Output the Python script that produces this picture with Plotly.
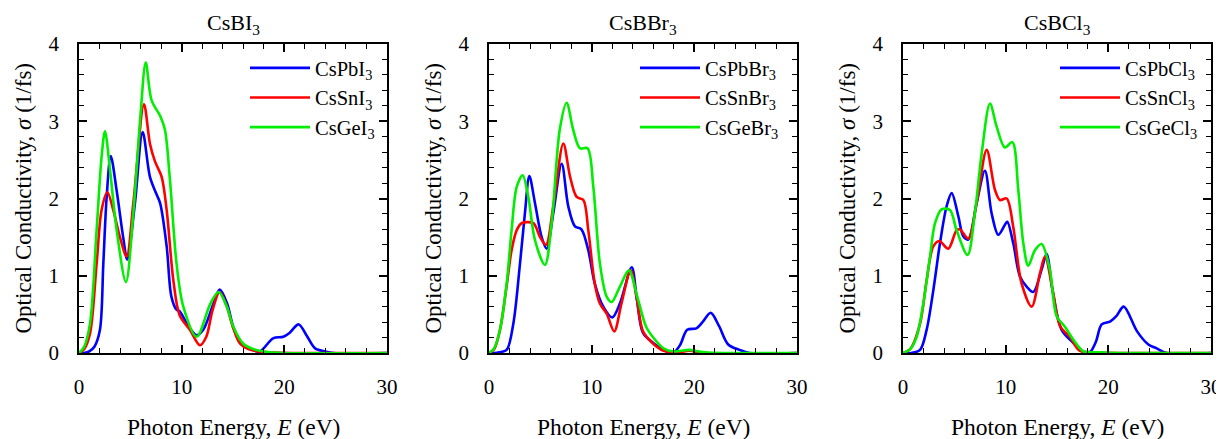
import plotly.graph_objects as go

# ---- data (photon energy in eV, sigma in 1/fs) ----
# CsBI3 panel
pbi_x = [0, 0.5, 1.0, 1.5, 2.04, 2.37, 2.7, 3.09, 3.67, 4.3, 4.7, 5.45, 6.2, 6.91, 7.5, 7.9, 8.54, 9.0, 9.5, 9.8,
         10.6, 11.46, 12.1, 13.1, 13.7, 14.4, 15.0, 15.7, 16.7, 17.6, 18.9, 19.9, 20.5, 21.4, 22.2, 23.0, 24.0, 24.8, 30]
pbi_y = [0, 0, 0.02, 0.08, 0.30, 1.16, 2.03, 2.55, 2.10, 1.5, 1.21, 1.94, 2.86, 2.28, 2.07, 1.94, 1.38, 0.73, 0.56, 0.54,
         0.36, 0.23, 0.30, 0.64, 0.82, 0.65, 0.35, 0.13, 0.05, 0.02, 0.19, 0.21, 0.26, 0.37, 0.22, 0.06, 0.02, 0, 0]
sni_x = [0, 0.5, 1.07, 1.72, 2.2, 2.76, 3.34, 3.99, 4.64, 5.29, 6.33, 6.91, 7.4, 8.05, 8.54, 9.19, 9.8, 10.8, 11.78,
         12.4, 13.0, 13.7, 14.4, 15.0, 15.7, 16.5, 17.5, 19, 21, 30]
sni_y = [0, 0.05, 0.25, 1.16, 1.85, 2.08, 1.85, 1.50, 1.25, 1.94, 3.22, 2.71, 2.48, 2.28, 1.85, 0.94, 0.49, 0.30, 0.10,
         0.21, 0.55, 0.79, 0.6, 0.33, 0.12, 0.05, 0.02, 0.005, 0, 0]
gei_x = [0, 0.5, 1.07, 1.72, 2.2, 2.53, 3.02, 3.67, 4.57, 5.29, 6.0, 6.5, 7.07, 7.9, 8.37, 8.86, 9.5, 10.16, 11.46,
         12.8, 13.6, 14.4, 15.0, 16.0, 17.0, 18.0, 20, 30]
gei_y = [0, 0.08, 0.38, 1.6, 2.54, 2.87, 2.37, 1.59, 0.92, 1.81, 3.1, 3.76, 3.27, 3.07, 2.89, 2.24, 1.16, 0.60, 0.21,
         0.64, 0.79, 0.6, 0.35, 0.12, 0.05, 0.02, 0, 0]

# CsBBr3 panel
pbbr_x = [0, 0.5, 1.0, 1.72, 2.37, 3.02, 3.5, 3.93, 4.48, 5.13, 5.62, 6.26, 7.08, 7.72, 8.37, 9.0, 9.67, 10.3, 11.13,
          12.0, 12.75, 13.9, 14.4, 15.0, 16.0, 17.3, 18.0, 18.6, 19.3, 20.2, 20.8, 21.6, 22.4, 23.3, 24.4, 25.4, 30]
pbbr_y = [0, 0, 0.01, 0.04, 0.38, 1.16, 1.81, 2.29, 1.94, 1.5, 1.35, 1.81, 2.45, 1.9, 1.64, 1.60, 1.33, 0.90, 0.6,
          0.46, 0.64, 1.11, 0.7, 0.26, 0.13, 0.02, 0.01, 0.1, 0.30, 0.32, 0.40, 0.52, 0.35, 0.11, 0.04, 0, 0]
snbr_x = [0, 0.5, 1.07, 1.72, 2.2, 2.7, 3.18, 4.32, 4.97, 5.55, 6.26, 7.24, 7.9, 8.54, 9.19, 9.67, 10.3, 10.8, 11.46,
          12.2, 12.9, 13.8, 14.4, 15.0, 16.0, 17.0, 18.5, 19.5, 21, 30]
snbr_y = [0, 0.05, 0.3, 0.87, 1.33, 1.59, 1.68, 1.68, 1.5, 1.40, 1.9, 2.71, 2.28, 2.02, 1.98, 1.59, 0.90, 0.64, 0.51,
          0.28, 0.64, 1.07, 0.7, 0.28, 0.12, 0.03, 0.01, 0.03, 0, 0]
gebr_x = [0, 0.5, 1.07, 1.72, 2.2, 2.7, 3.28, 3.83, 4.48, 5.45, 6.1, 6.9, 7.56, 8.2, 8.86, 9.6, 10.16, 10.8, 11.46,
          11.95, 12.75, 13.63, 14.4, 15.3, 16.0, 17.0, 18.0, 19.5, 21, 30]
gebr_y = [0, 0.06, 0.3, 0.9, 1.59, 2.15, 2.30, 2.02, 1.46, 1.14, 1.68, 2.9, 3.24, 2.89, 2.65, 2.65, 2.15, 1.16, 0.73,
          0.66, 0.86, 1.07, 0.75, 0.34, 0.2, 0.06, 0.02, 0.04, 0.01, 0]

# CsBCl3 panel
pbcl_x = [0, 0.8, 1.66, 2.3, 2.95, 3.6, 4.25, 4.74, 5.39, 5.87, 6.36, 7.17, 7.98, 8.63, 9.28, 9.93, 10.16, 10.74, 11.39,
          12.04, 12.69, 13.5, 13.99, 14.6, 15.45, 16.6, 17.6, 18.2, 18.8, 19.35, 20.2, 20.8, 21.5, 22.8, 23.9, 24.7,
          25.7, 30]
pbcl_y = [0, 0, 0.04, 0.3, 0.81, 1.42, 1.9, 2.07, 1.77, 1.51, 1.47, 1.94, 2.36, 1.81, 1.53, 1.66, 1.70, 1.42, 0.99,
          0.86, 0.79, 1.08, 1.28, 0.78, 0.30, 0.13, 0.01, 0.01, 0.15, 0.37, 0.41, 0.48, 0.60, 0.28, 0.11, 0.06,
          0, 0]
sncl_x = [0, 0.7, 1.66, 2.3, 2.95, 3.54, 4.41, 5.22, 5.55, 6.36, 7.17, 8.15, 8.96, 9.44, 10.1, 10.74, 11.55, 12.53,
          13.34, 13.83, 14.6, 15.3, 16.3, 17.2, 18.5, 21, 30]
sncl_y = [0, 0.05, 0.38, 0.94, 1.38, 1.45, 1.35, 1.59, 1.60, 1.48, 1.94, 2.63, 2.11, 1.98, 2.0, 1.63, 0.9, 0.60,
          1.03, 1.25, 0.8, 0.35, 0.2, 0.03, 0.01, 0, 0]
gecl_x = [0, 0.7, 1.33, 1.98, 2.63, 3.12, 3.76, 4.57, 5.22, 6.29, 7.0, 7.66, 8.47, 9.12, 9.93, 10.65, 11.23, 11.72,
          12.2, 12.85, 13.5, 14.3, 14.96, 15.77, 16.6, 17.6, 19, 21, 30]
gecl_y = [0, 0.05, 0.21, 0.64, 1.25, 1.68, 1.86, 1.85, 1.59, 1.27, 1.81, 2.58, 3.23, 2.93, 2.66, 2.73, 2.11, 1.42,
          1.13, 1.33, 1.41, 1.08, 0.48, 0.34, 0.17, 0.02, 0.01, 0, 0]

panel_titles = ['CsBI<sub>3</sub>', 'CsBBr<sub>3</sub>', 'CsBCl<sub>3</sub>']
halides = ['I', 'Br', 'Cl']
metals = ['Pb', 'Sn', 'Ge']
colors = ['#0000ff', '#ff0000', '#00ee00']
series = [
    [(pbi_x, pbi_y), (sni_x, sni_y), (gei_x, gei_y)],
    [(pbbr_x, pbbr_y), (snbr_x, snbr_y), (gebr_x, gebr_y)],
    [(pbcl_x, pbcl_y), (sncl_x, sncl_y), (gecl_x, gecl_y)],
]

# the page body has an 8px margin, so the figure is drawn 8px smaller and
# all window pixel positions below are shifted by OFF
OFF = 8
W, H = 1224 - OFF, 439 - OFF
FONT = 'Liberation Serif'


def px(v):
    return (v - OFF) / W


def py(v):
    return 1 - (v - OFF) / H


# plot frames in window pixels (left, right), shared top/bottom
frames = [(79, 387), (489, 797), (903, 1211)]
top_px, bot_px = 44, 353
legend_left = [245, 635, 1055]

fig = go.Figure()
layout = dict(width=W, height=H, margin=dict(l=0, r=0, t=0, b=0, autoexpand=False),
              paper_bgcolor='white', plot_bgcolor='white',
              font=dict(family=FONT, color='black', size=20), annotations=[])

ydom = [py(bot_px), py(top_px)]
for i in range(3):
    sfx = '' if i == 0 else str(i + 1)
    for j in range(3):
        xs, ys = series[i][j]
        fig.add_trace(go.Scatter(
            x=xs, y=ys, mode='lines',
            name='Cs' + metals[j] + halides[i] + '<sub>3</sub>',
            line=dict(color=colors[j], width=2.6, shape='spline', smoothing=0.9),
            xaxis='x' + sfx, yaxis='y' + sfx,
            legend='legend' + sfx,
        ))
    l, r = frames[i]
    axstyle = dict(showline=True, linecolor='black', linewidth=1.5, mirror='allticks',
                   ticks='inside', ticklen=8, tickwidth=1.5, tickcolor='black',
                   showgrid=False, zeroline=False,
                   tickfont=dict(family=FONT, size=21, color='black'))
    layout['xaxis' + sfx] = dict(axstyle, domain=[px(l), px(r)], range=[0, 30], dtick=10,
                                 anchor='y' + sfx, ticklabelstandoff=14,
                                 minor=dict(ticks='inside', dtick=2, ticklen=5, tickwidth=1.2,
                                            tickcolor='black', showgrid=False))
    layout['yaxis' + sfx] = dict(axstyle, domain=[ydom[0], ydom[1]], range=[0, 4], dtick=1,
                                 anchor='x' + sfx, ticklabelstandoff=14,
                                 minor=dict(ticks='inside', dtick=0.2, ticklen=5, tickwidth=1.2,
                                            tickcolor='black', showgrid=False))
    layout['legend' + sfx] = dict(x=px(legend_left[i]), y=py(48), xanchor='left', yanchor='top',
                                  bgcolor='rgba(0,0,0,0)', itemwidth=60, tracegroupgap=0,
                                  font=dict(family=FONT, size=20.5, color='black'))
    cx = (l + r) / 2
    layout['annotations'] += [
        dict(text=panel_titles[i], x=px(cx), y=py(24), xref='paper', yref='paper',
             xanchor='center', yanchor='middle',
             showarrow=False, font=dict(family=FONT, size=22, color='black')),
        dict(text='Photon Energy, <i>E</i> (eV)', x=px(cx), y=py(427), xref='paper', yref='paper',
             xanchor='center', yanchor='middle',
             showarrow=False, font=dict(family=FONT, size=23.5, color='black')),
        dict(text='Optical Conductivity, <i>σ</i> (1/fs)', x=px(l - 56), y=(ydom[0] + ydom[1]) / 2,
             xref='paper', yref='paper', textangle=-90, showarrow=False,
             xanchor='center', yanchor='middle',
             font=dict(family=FONT, size=23, color='black')),
    ]

fig.update_layout(**layout)
fig.write_html('out.html')
